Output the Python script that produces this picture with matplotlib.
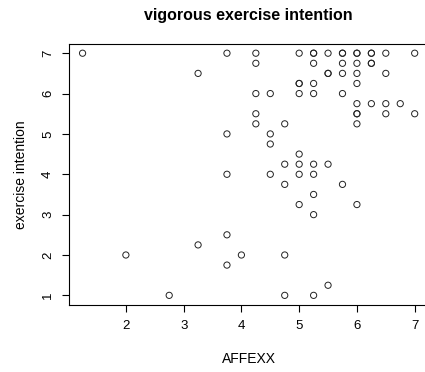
import numpy as np
import matplotlib
matplotlib.use("Agg")
import matplotlib.pyplot as plt

plt.rcParams['font.family'] = ['Liberation Sans', 'DejaVu Sans']

# data (some points repeated where they look darker)
affexx = [1.25, 3.75, 4.25, 5, 5.25, 5.25, 5.5, 5.75, 5.75, 6, 6, 6.25, 6.25, 6.5, 7,
          3.25, 4.25, 5.25, 5.75, 6, 6.25, 6.25,
          5.5, 5.5, 5.75, 6, 6.5,
          5, 5, 5.25, 6,
          4.25, 4.5, 5, 5.25, 5.75,
          6, 6.25, 6.5, 6.75,
          4.25, 6, 6, 6.5, 7,
          4.25, 4.75, 6,
          3.75, 4.5,
          4.5,
          5,
          4.75, 5, 5.25, 5.5,
          3.75, 4.5, 5, 5.25,
          4.75, 5.75,
          5.25,
          5, 6,
          5.25,
          3.75,
          3.25,
          2, 4, 4.75,
          3.75,
          5.5,
          2.75, 4.75, 5.25]
intention = [7, 7, 7, 7, 7, 7, 7, 7, 7, 7, 7, 7, 7, 7, 7,
             6.5, 6.75, 6.75, 6.75, 6.75, 6.75, 6.75,
             6.5, 6.5, 6.5, 6.5, 6.5,
             6.25, 6.25, 6.25, 6.25,
             6, 6, 6, 6, 6,
             5.75, 5.75, 5.75, 5.75,
             5.5, 5.5, 5.5, 5.5, 5.5,
             5.25, 5.25, 5.25,
             5, 5,
             4.75,
             4.5,
             4.25, 4.25, 4.25, 4.25,
             4, 4, 4, 4,
             3.75, 3.75,
             3.5,
             3.25, 3.25,
             3,
             2.5,
             2.25,
             2, 2, 2,
             1.75,
             1.25,
             1, 1, 1]

x_ticks = [2, 3, 4, 5, 6, 7]
y_ticks = [1, 2, 3, 4, 5, 6, 7]

fig = plt.figure(figsize=(4.25, 3.72), dpi=100)
ax = fig.add_axes([0.163, 0.180, 0.844, 0.703])

ax.scatter(affexx, intention, s=20, facecolors='none', edgecolors='#222222', linewidths=0.7)

ax.set_xlim(1.02, 7.23)
ax.set_ylim(0.76, 7.24)
ax.set_xticks(x_ticks)
ax.set_yticks(y_ticks)
ax.tick_params(labelsize=9.5, length=5, width=0.8, pad=6)
for lab in ax.get_yticklabels():
    lab.set_rotation(90)
    lab.set_va('center')
for sp in ax.spines.values():
    sp.set_linewidth(0.8)

ax.set_xlabel("AFFEXX", fontsize=10, labelpad=14)
ax.set_ylabel("exercise intention", fontsize=10, labelpad=10)
ax.set_title("vigorous exercise intention", fontsize=11.5, fontweight='bold', pad=17)

fig.savefig("out.png", dpi=100)
